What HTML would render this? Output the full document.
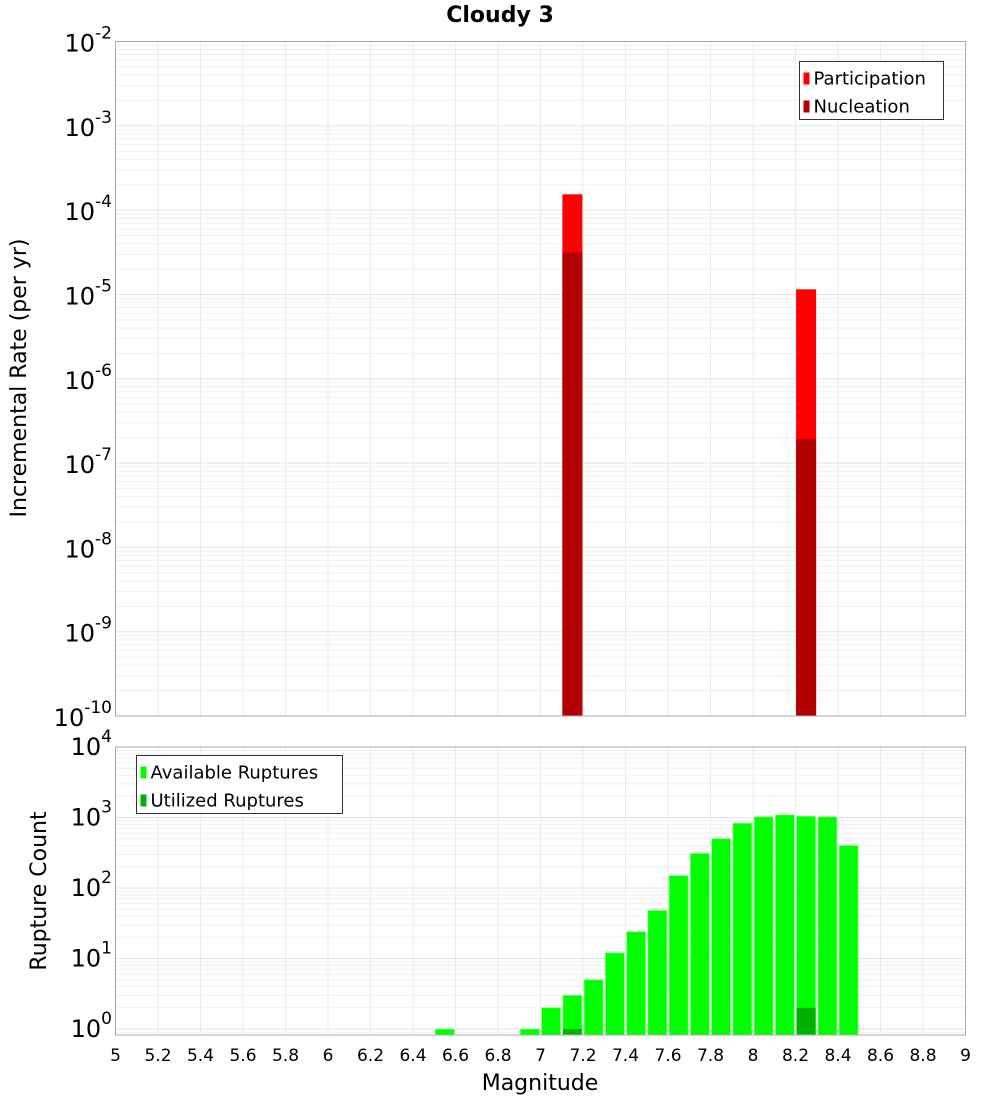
<!DOCTYPE html>
<html><head><meta charset="utf-8"><style>
body{margin:0;background:#fff;font-family:"DejaVu Sans","Liberation Sans",sans-serif;}
</style></head><body>
<svg id="chart" width="1000" height="1100" xmlns="http://www.w3.org/2000/svg" font-family="DejaVu Sans, Liberation Sans, sans-serif"></svg>
<script>
const xTicks=[5,5.2,5.4,5.6,5.8,6,6.2,6.4,6.6,6.8,7,7.2,7.4,7.6,7.8,8,8.2,8.4,8.6,8.8,9];
const rateMags=[7.15,8.25];
const participation=[1.54e-4,1.15e-5];
const nucleation=[3.16e-5,1.92e-7];
const countMags=[6.55,6.95,7.05,7.15,7.25,7.35,7.45,7.55,7.65,7.75,7.85,7.95,8.05,8.15,8.25,8.35,8.45];
const available=[1,1,2,3,5,12,24,48,150,310,500,830,1020,1090,1040,1020,400];
const utilMags=[7.15,8.25];
const utilized=[1,2];
const topExp=[-2,-3,-4,-5,-6,-7,-8,-9,-10];
const botExp=[0,1,2,3,4];

const svg=document.getElementById('chart');
const NS='http://www.w3.org/2000/svg';
function mk(t,a,p){const e=document.createElementNS(NS,t);for(const k in a)e.setAttribute(k,a[k]);(p||svg).appendChild(e);return e;}
const L=115.5,R=965.5;
const X=m=>L+(m-5)/4*(R-L);
const T1=41.5,B1=716;
const Y1=v=>T1+(-2-Math.log10(v))*(B1-T1)/8;
const T2=747,B2=1035;
const dec2=70.5;
const Y2=v=>T2+(4-Math.log10(v))*dec2;

function grid(top,bot,yf,lo,hi,name){
  const g=mk('g',{});
  
  for(const t of xTicks){mk('line',{x1:X(t),x2:X(t),y1:top,y2:bot,stroke:'#ebebeb','stroke-width':1},g);}
  for(let e=lo;e<hi;e++)for(let k=1;k<10;k++){const y=yf(k*Math.pow(10,e));if(y<top-0.5||y>bot+0.5)continue;
    mk('line',{x1:L,x2:R,y1:y,y2:y,stroke:k==1?'#e2e2e2':'#efefef','stroke-width':1},g);}
}
grid(T1,B1,Y1,-10,-1,'top-grid');
grid(T2,B2,Y2,-1,4,'bottom-grid');

// top bars
rateMags.forEach((m,i)=>{
  const r=mk('rect',{x:X(m)-10,y:Y1(participation[i]),width:20,height:B1-Y1(participation[i]),fill:'#ff0000'});
  
  const n=mk('rect',{x:X(m)-10,y:Y1(nucleation[i]),width:20,height:B1-Y1(nucleation[i]),fill:'#b20000'});
  
});
// bottom bars
countMags.forEach((m,i)=>{
  const r=mk('rect',{x:X(m)-9.5,y:Y2(available[i]),width:19,height:B2-Y2(available[i]),fill:'#00ff00',stroke:'#80ff80','stroke-width':0.8});
  
});
utilMags.forEach((m,i)=>{
  const r=mk('rect',{x:X(m)-9.5,y:Y2(utilized[i]),width:19,height:B2-Y2(utilized[i]),fill:'#00b200'});
  
});
// frames
let f=mk('rect',{x:L,y:T1,width:R-L,height:B1-T1,fill:'none',stroke:'#aaaaaa'});

f=mk('rect',{x:L,y:T2,width:R-L,height:B2-T2,fill:'none',stroke:'#aaaaaa'});


// y tick labels
topExp.forEach(e=>{
  const t=mk('text',{x:112,y:Y1(Math.pow(10,e))+10,'text-anchor':'end','font-size':24});
  
  t.innerHTML='10<tspan dy="-13" font-size="17">'+e+'</tspan>';
});
botExp.forEach(e=>{
  const t=mk('text',{x:112,y:Y2(Math.pow(10,e))+8,'text-anchor':'end','font-size':24});
  
  t.innerHTML='10<tspan dy="-13" font-size="17">'+e+'</tspan>';
});
xTicks.forEach(v=>{
  const t=mk('text',{x:X(v),y:1061,'text-anchor':'middle','font-size':17});
  
  t.textContent=String(v);
});
let t=mk('text',{x:540,y:1090,'text-anchor':'middle','font-size':22});
t.textContent='Magnitude';
t=mk('text',{x:500,y:22,'text-anchor':'middle','font-size':22,'font-weight':'bold'});
t.textContent='Cloudy 3';
t=mk('text',{x:0,y:0,'text-anchor':'middle','font-size':22,transform:'translate(26,378) rotate(-90)'});
t.textContent='Incremental Rate (per yr)';
t=mk('text',{x:0,y:0,'text-anchor':'middle','font-size':22,transform:'translate(46,891) rotate(-90)'});
t.textContent='Rupture Count';

function legend(x,y,w,items,name){
  const g=mk('g',{});
  mk('rect',{x:x,y:y,width:w,height:58,fill:'#fff',stroke:'#333'},g);
  items.forEach((it,i)=>{
    mk('rect',{x:x+4,y:y+11+i*28,width:6,height:12,fill:it[1]},g);
    const tx=mk('text',{x:x+14,y:y+23+i*28,'font-size':18},g);tx.textContent=it[0];
  });
}
legend(799.5,61.5,144,[['Participation','#ff0000'],['Nucleation','#b20000']],'top-legend');
legend(136.5,755.5,206,[['Available Ruptures','#00ff00'],['Utilized Ruptures','#00b200']],'bottom-legend');
</script>
</body></html>
